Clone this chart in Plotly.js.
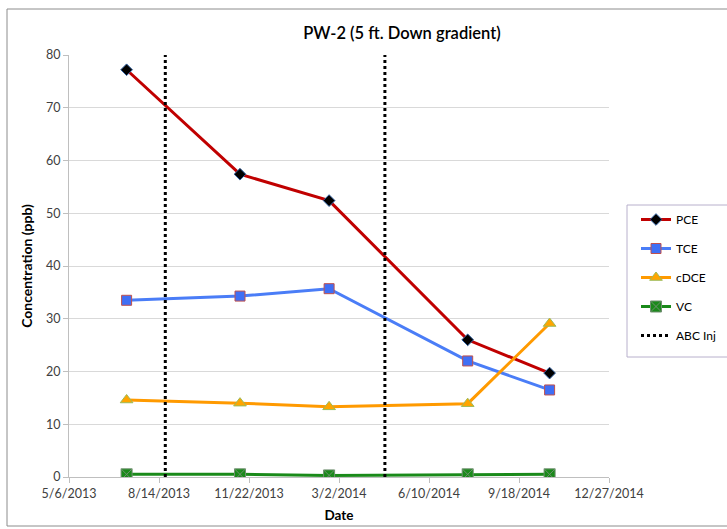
<!DOCTYPE html>
<html>
<head>
<meta charset="utf-8">
<script src="https://cdn.plot.ly/plotly-3.0.1.min.js"></script>
<style>
  html, body { margin: 0; padding: 0; background: #fff; }
  #chart { width: 727px; height: 529px; }
</style>
</head>
<body>
<div id="chart"></div>
<script>
// ---- Data ----
const sampleDates = ['2013-07-09', '2013-11-12', '2014-02-19', '2014-07-23', '2014-10-22'];
const pce  = [77.2, 57.4, 52.4, 26.0, 19.7];
const tce  = [33.5, 34.3, 35.7, 22.0, 16.5];
const cdce = [14.6, 14.0, 13.3, 13.9, 29.1];
const vc   = [0.5, 0.5, 0.3, 0.5, 0.5];
const injDates = ['2013-08-21', '2014-04-22'];
const injRange = [0, 80];
const tickDates  = ['2013-05-06', '2013-08-14', '2013-11-22', '2014-03-02', '2014-06-10', '2014-09-18', '2014-12-27'];
const tickLabels = ['5/6/2013', '8/14/2013', '11/22/2013', '3/2/2014', '6/10/2014', '9/18/2014', '12/27/2014'];
const yTicks = [0, 10, 20, 30, 40, 50, 60, 70, 80];

const FONT = 'Lato, "Open Sans", "Liberation Sans", sans-serif';

const traces = [
  {
    name: 'PCE', x: sampleDates, y: pce, mode: 'lines+markers', legendgroup: 'a',
    line: { color: '#c00000', width: 3 },
    marker: { symbol: 'diamond', size: 9, color: '#000000', line: { color: '#3060a0', width: 1 } }
  },
  {
    name: 'TCE', x: sampleDates, y: tce, mode: 'lines+markers', legendgroup: 'b',
    line: { color: '#4a7df7', width: 3 },
    marker: { symbol: 'square', size: 10, color: '#3f6ff5', line: { color: '#c0504d', width: 1 } }
  },
  {
    name: 'cDCE', x: sampleDates, y: cdce, mode: 'lines+markers', legendgroup: 'c',
    line: { color: '#ff9a00', width: 3 },
    marker: { symbol: 'triangle-up', size: 11, color: '#ffa500', line: { color: '#9bbb59', width: 1 } }
  },
  {
    name: 'VC', x: sampleDates, y: vc, mode: 'lines+markers', legendgroup: 'd',
    line: { color: '#1a8a1a', width: 3 },
    marker: { symbol: 'square-x', size: 11, color: '#1a8a1a', line: { color: '#6f8f6f', width: 1 } }
  },
  {
    name: 'ABC Inj', x: [injDates[0], injDates[0]], y: injRange, mode: 'lines', legendgroup: 'e',
    line: { color: '#000000', width: 3, dash: 'dot' }
  },
  {
    name: 'ABC Inj', x: [injDates[1], injDates[1]], y: injRange, mode: 'lines', legendgroup: 'e',
    showlegend: false,
    line: { color: '#000000', width: 3, dash: 'dot' }
  }
];

const L = 69, R = 609, T = 55, B = 477, W = 727, H = 529;
const pw = R - L, ph = B - T;
const px = v => (v - L) / pw;
const py = v => (B - v) / ph;

const layout = {
  width: W, height: H,
  margin: { l: L, r: W - R, t: T, b: H - B, pad: 0, autoexpand: false },
  paper_bgcolor: '#ffffff',
  plot_bgcolor: '#ffffff',
  font: { family: FONT, size: 12, color: '#404040' },
  showlegend: true,
  title: {
    text: 'PW-2 (5 ft. Down gradient)',
    font: { family: FONT, size: 16.5, color: '#000000', weight: 600 },
    x: px(402), xref: 'paper', xanchor: 'center',
    y: 1 - 33 / H, yref: 'container', yanchor: 'middle'
  },
  xaxis: {
    type: 'date',
    range: ['2013-05-06', '2014-12-27'],
    tickmode: 'array', tickvals: tickDates, ticktext: tickLabels,
    ticks: 'outside', ticklen: 5, tickcolor: '#bfbfbf', tickwidth: 1,
    showgrid: false, showline: true, linecolor: '#bfbfbf', linewidth: 1,
    zeroline: false,
    tickfont: { family: FONT, size: 12.5, color: '#404040' },
    title: { text: 'Date', font: { family: FONT, size: 13.5, color: '#000000', weight: 700 }, standoff: 10 }
  },
  yaxis: {
    range: [0, 80],
    tickmode: 'array', tickvals: yTicks,
    ticks: 'outside', ticklen: 5, tickcolor: '#bfbfbf', tickwidth: 1,
    showgrid: true, gridcolor: '#d9d9d9', gridwidth: 1,
    showline: true, linecolor: '#bfbfbf', linewidth: 1,
    zeroline: false,
    tickfont: { family: FONT, size: 12.5, color: '#404040' },
    title: { text: 'Concentration (ppb)', font: { family: FONT, size: 14, color: '#000000', weight: 700 }, standoff: 10 }
  },
  legend: {
    x: px(636), y: py(205), xanchor: 'left', yanchor: 'top',
    bgcolor: 'rgba(0,0,0,0)', borderwidth: 0,
    font: { family: FONT, size: 12, color: '#000000' },
    traceorder: 'grouped', tracegroupgap: 10
  },
  shapes: [
    {
      type: 'rect', xref: 'paper', yref: 'paper', layer: 'below',
      x0: px(7), x1: px(740), y0: py(526), y1: py(9),
      line: { color: '#8c8c8c', width: 1 }, fillcolor: 'rgba(0,0,0,0)'
    },
    {
      type: 'rect', xref: 'paper', yref: 'paper', layer: 'below',
      x0: px(627), x1: px(740), y0: py(357), y1: py(205),
      line: { color: '#b8b0cc', width: 1 }, fillcolor: '#ffffff'
    }
  ]
};

Plotly.newPlot('chart', traces, layout, { displayModeBar: false, staticPlot: true });
</script>
</body>
</html>
